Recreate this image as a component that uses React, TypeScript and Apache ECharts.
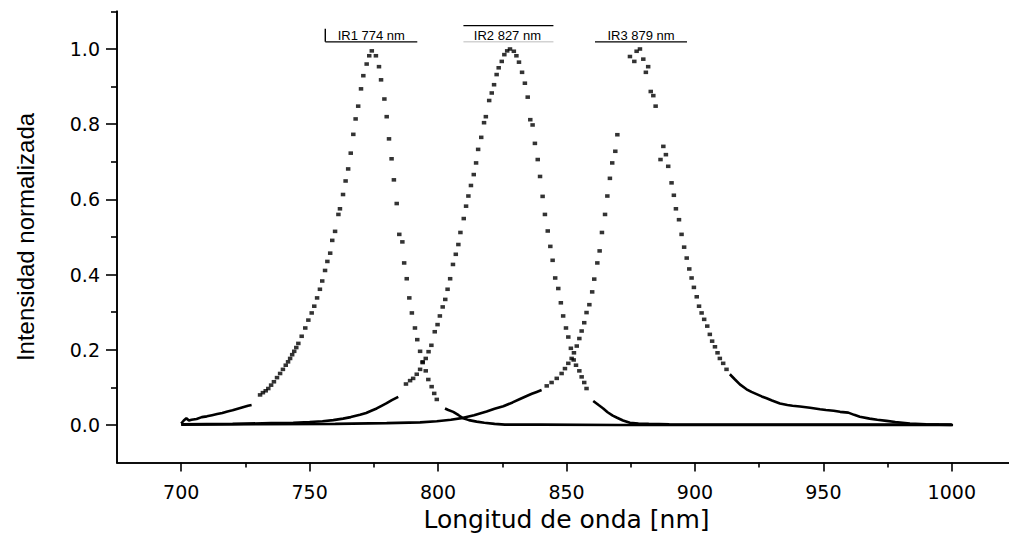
import React, { useEffect, useRef } from "react";
import * as echarts from "echarts";

// Axis ticks
const xTicks = [700, 750, 800, 850, 900, 950, 1000];
const xMinorTicks = [725, 775, 825, 875, 925, 975];
const yTicks = [0, 0.2, 0.4, 0.6, 0.8, 1.0];
const yMinorTicks = [0.1, 0.3, 0.5, 0.7, 0.9, 1.1];

// Peak annotations
const peakLabels = ["IR1 774 nm", "IR2 827 nm", "IR3 879 nm"];
const peakWavelengths = [774, 827, 879];

// IR1 (774 nm) – dotted part
const ir1DotsX = [730.7, 731.8, 732.9, 733.9, 735.0, 736.1, 737.3, 738.5, 739.6, 740.7, 741.6, 742.4, 743.2, 744.0, 744.8, 745.6, 746.9, 748.3, 749.5, 750.8, 751.8, 752.9, 754.0, 754.9, 756.0, 756.9, 758.0, 758.8, 759.9, 761.2, 761.8, 763.0, 764.0, 765.0, 766.0, 767.0, 767.9, 768.9, 770.0, 770.9, 772.2, 773.2, 774.2, 775.8, 777.0, 777.8, 779.1, 780.0, 780.9, 781.9, 782.8, 783.9, 784.9, 786.1, 786.8, 787.8, 788.8, 789.8, 791.0, 791.9, 793.0, 794.0, 795.2, 796.2, 797.5, 798.5, 799.5];
const ir1DotsY = [0.080, 0.086, 0.091, 0.097, 0.106, 0.115, 0.126, 0.137, 0.148, 0.159, 0.168, 0.177, 0.187, 0.196, 0.206, 0.217, 0.236, 0.258, 0.279, 0.298, 0.316, 0.338, 0.361, 0.383, 0.411, 0.435, 0.457, 0.491, 0.515, 0.560, 0.575, 0.613, 0.649, 0.681, 0.723, 0.773, 0.814, 0.848, 0.894, 0.929, 0.960, 0.982, 0.995, 0.982, 0.953, 0.918, 0.867, 0.820, 0.761, 0.708, 0.652, 0.589, 0.507, 0.487, 0.431, 0.389, 0.338, 0.298, 0.258, 0.227, 0.196, 0.168, 0.144, 0.121, 0.102, 0.084, 0.068];
// IR1 – continuous tails
const ir1LeftX = [700, 701, 702, 703, 704, 706, 708, 710, 712, 714, 716, 718, 720, 722, 724, 726, 727.4];
const ir1LeftY = [0.004, 0.012, 0.018, 0.012, 0.014, 0.016, 0.021, 0.023, 0.026, 0.029, 0.032, 0.036, 0.039, 0.043, 0.047, 0.051, 0.053];
const ir1RightX = [802.7, 804, 805.9, 808, 809.8, 812, 815, 818, 822, 826, 840, 870, 900, 940, 970, 1000];
const ir1RightY = [0.044, 0.040, 0.035, 0.026, 0.018, 0.013, 0.009, 0.006, 0.003, 0.001, 0.001, 0.0, 0.0, 0.0, 0.0, 0.0];

// IR2 (827 nm)
const ir2DotsX = [787.5, 789.1, 790.3, 791.7, 793.0, 794.0, 795.2, 796.3, 797.4, 798.7, 799.8, 800.7, 801.8, 802.8, 803.7, 804.7, 805.8, 806.9, 807.9, 808.7, 810.0, 810.9, 811.8, 812.8, 813.9, 814.8, 815.6, 816.8, 817.9, 818.6, 819.9, 820.9, 821.8, 822.8, 823.6, 824.8, 825.8, 826.9, 828.0, 829.5, 830.5, 831.5, 832.7, 833.8, 834.9, 835.9, 836.8, 837.7, 838.8, 839.7, 840.7, 841.6, 842.7, 843.7, 844.6, 845.6, 846.8, 847.8, 848.7, 849.8, 850.7, 851.7, 852.8, 853.7, 855.0, 855.9, 856.9, 857.8];
const ir2DotsY = [0.109, 0.118, 0.124, 0.135, 0.148, 0.166, 0.177, 0.195, 0.212, 0.248, 0.267, 0.290, 0.314, 0.334, 0.361, 0.389, 0.427, 0.454, 0.480, 0.512, 0.549, 0.582, 0.609, 0.637, 0.666, 0.697, 0.733, 0.765, 0.804, 0.820, 0.863, 0.883, 0.905, 0.932, 0.950, 0.967, 0.985, 0.995, 1.0, 0.994, 0.982, 0.965, 0.938, 0.909, 0.872, 0.812, 0.798, 0.749, 0.706, 0.661, 0.608, 0.560, 0.516, 0.475, 0.438, 0.391, 0.363, 0.325, 0.290, 0.258, 0.234, 0.204, 0.173, 0.159, 0.144, 0.128, 0.113, 0.097];
const ir2LeftX = [700, 720, 735, 743.6, 750, 755, 759.2, 763, 766, 769.6, 772, 774, 776.1, 778, 780, 782, 784.5];
const ir2LeftY = [0.002, 0.003, 0.005, 0.006, 0.008, 0.010, 0.013, 0.017, 0.021, 0.027, 0.032, 0.038, 0.044, 0.051, 0.058, 0.066, 0.075];
const ir2RightX = [860.4, 862.5, 864.3, 866, 868, 869.5, 872, 874.7, 878, 882, 890, 920, 960, 1000];
const ir2RightY = [0.064, 0.053, 0.044, 0.034, 0.025, 0.020, 0.012, 0.006, 0.004, 0.003, 0.002, 0.001, 0.001, 0.001];

// IR3 (879 nm)
const ir3DotsX = [842.3, 844.2, 846.2, 848.1, 849.4, 850.7, 852.0, 852.9, 854.0, 855.0, 855.9, 856.9, 857.8, 858.9, 860.0, 860.8, 862.0, 862.9, 863.8, 865.0, 865.9, 866.9, 867.8, 869.0, 869.8, 874.7, 876.4, 877.3, 878.6, 879.9, 880.9, 881.8, 882.8, 883.8, 884.7, 886.6, 887.7, 888.7, 889.6, 890.9, 891.8, 892.6, 893.8, 894.8, 895.8, 896.8, 897.8, 898.7, 899.6, 900.7, 901.6, 902.6, 903.6, 904.8, 905.8, 906.7, 907.8, 908.8, 909.7, 911.0, 912.3];
const ir3DotsY = [0.104, 0.113, 0.124, 0.137, 0.150, 0.164, 0.177, 0.192, 0.210, 0.230, 0.250, 0.272, 0.299, 0.320, 0.354, 0.388, 0.431, 0.463, 0.512, 0.560, 0.609, 0.656, 0.697, 0.728, 0.772, 0.980, 0.967, 0.994, 1.0, 0.973, 0.938, 0.953, 0.887, 0.876, 0.848, 0.706, 0.741, 0.719, 0.688, 0.644, 0.611, 0.575, 0.546, 0.507, 0.473, 0.444, 0.415, 0.391, 0.366, 0.341, 0.316, 0.298, 0.281, 0.263, 0.241, 0.223, 0.208, 0.192, 0.177, 0.164, 0.148];
const ir3LeftX = [700, 730, 760, 780, 793, 799.5, 805, 809.8, 814, 818.9, 822, 825.4, 829, 831.9, 834.5, 836.5, 838.4, 840.3];
const ir3LeftY = [0.001, 0.002, 0.003, 0.005, 0.007, 0.010, 0.014, 0.019, 0.026, 0.036, 0.043, 0.050, 0.060, 0.069, 0.077, 0.083, 0.088, 0.093];
const ir3RightX = [913.6, 915.6, 917.5, 920.1, 922, 924.0, 926, 927.9, 930, 933.1, 936, 938, 940.9, 944.8, 948.7, 951, 954, 956.5, 959.7, 962, 964.2, 968, 971, 974.6, 978, 983.7, 990, 995, 1000.5];
const ir3RightY = [0.135, 0.121, 0.108, 0.095, 0.088, 0.082, 0.076, 0.071, 0.065, 0.057, 0.053, 0.051, 0.049, 0.046, 0.042, 0.040, 0.038, 0.035, 0.033, 0.027, 0.022, 0.017, 0.014, 0.011, 0.008, 0.004, 0.002, 0.001, 0.0];

const zip = (xs: number[], ys: number[]) => xs.map((x, i) => [x, ys[i]]);

const dotSeries = (name: string, xs: number[], ys: number[]) => ({
  name,
  type: "scatter",
  data: zip(xs, ys),
  symbol: "rect",
  symbolSize: [4.5, 3.6],
  itemStyle: { color: "#000" },
  silent: true,
});

const tailSeries = (name: string, xs: number[], ys: number[]) => ({
  name,
  type: "line",
  data: zip(xs, ys),
  showSymbol: false,
  symbol: "none",
  lineStyle: { color: "#000", width: 2.6 },
  silent: true,
});

const TICK_FONT = "'DejaVu Sans', 'Liberation Sans', sans-serif";
const ARIAL = "'Liberation Sans', Arial, sans-serif";

export default function App() {
  const ref = useRef<HTMLDivElement>(null);

  useEffect(() => {
    if (!ref.current) return;
    const chart = echarts.init(ref.current, null, { renderer: "svg" });
    const axisLineStyle = { color: "#000", width: 1.6 };
    const option: any = {
      animation: false,
      backgroundColor: "#fff",
      grid: {
        left: 117,
        right: 14,
        top: 11.4,
        bottom: 70.4,
        containLabel: false,
        outerBoundsMode: "none",
      },
      xAxis: [
        {
          type: "value",
          min: 675,
          max: 1025,
          position: "bottom",
          axisLine: { show: true, onZero: false, lineStyle: axisLineStyle },
          axisTick: { show: true, inside: false, length: 9, customValues: xTicks, lineStyle: axisLineStyle },
          axisLabel: {
            customValues: xTicks,
            color: "#000",
            fontSize: 19,
            fontFamily: TICK_FONT,
            margin: 20,
            formatter: (v: number) => String(v),
          },
          splitLine: { show: false },
          name: "Longitud de onda [nm]",
          nameLocation: "middle",
          nameGap: 36,
          nameTextStyle: { color: "#000", fontSize: 25, fontFamily: TICK_FONT },
        },
        {
          type: "value",
          min: 675,
          max: 1025,
          position: "bottom",
          axisLine: { show: true, onZero: false, lineStyle: axisLineStyle },
          axisTick: { show: true, inside: false, length: 5, customValues: xMinorTicks, lineStyle: axisLineStyle },
          axisLabel: { show: false },
          splitLine: { show: false },
        },
      ],
      yAxis: [
        {
          type: "value",
          min: -0.1,
          max: 1.1,
          position: "left",
          axisLine: { show: true, onZero: false, lineStyle: axisLineStyle },
          axisTick: { show: true, inside: false, length: 11, customValues: yTicks, lineStyle: axisLineStyle },
          axisLabel: {
            customValues: yTicks,
            color: "#000",
            fontSize: 19,
            fontFamily: TICK_FONT,
            margin: 17,
            formatter: (v: number) => v.toFixed(1),
          },
          splitLine: { show: false },
          name: "Intensidad normalizada",
          nameLocation: "middle",
          nameRotate: 90,
          nameGap: 80,
          nameTextStyle: {
            color: "#000",
            fontSize: 24,
            fontFamily: ARIAL,
          },
        },
        {
          type: "value",
          min: -0.1,
          max: 1.1,
          position: "left",
          axisLine: { show: true, onZero: false, lineStyle: axisLineStyle },
          axisTick: { show: true, inside: false, length: 6, customValues: yMinorTicks, lineStyle: axisLineStyle },
          axisLabel: { show: false },
          splitLine: { show: false },
        },
      ],
      series: [
        tailSeries("IR1 left", ir1LeftX, ir1LeftY),
        tailSeries("IR1 right", ir1RightX, ir1RightY),
        tailSeries("IR2 left", ir2LeftX, ir2LeftY),
        tailSeries("IR2 right", ir2RightX, ir2RightY),
        tailSeries("IR3 left", ir3LeftX, ir3LeftY),
        tailSeries("IR3 right", ir3RightX, ir3RightY),
        dotSeries("IR1", ir1DotsX, ir1DotsY),
        dotSeries("IR2", ir2DotsX, ir2DotsY),
        dotSeries("IR3", ir3DotsX, ir3DotsY),
      ],
    };
    chart.setOption(option);

    // Peak annotations positioned through the chart's scales
    const graphics: any[] = [];
    peakLabels.forEach((label, i) => {
      const c = chart.convertToPixel({ xAxisIndex: 0, yAxisIndex: 0 }, [peakWavelengths[i], 1.035]) as number[];
      const under = chart.convertToPixel({ xAxisIndex: 0, yAxisIndex: 0 }, [peakWavelengths[i], 1.019]) as number[];
      const over = chart.convertToPixel({ xAxisIndex: 0, yAxisIndex: 0 }, [peakWavelengths[i], 1.062]) as number[];
      const half = 46;
      graphics.push({
        type: "text",
        style: {
          text: label,
          x: c[0],
          y: c[1],
          fill: "#000",
          fontSize: 13,
          fontFamily: ARIAL,
          textAlign: "center",
          textVerticalAlign: "middle",
          align: "center",
          verticalAlign: "middle",
        },
        silent: true,
      });
      if (i === 0) {
        graphics.push({
          type: "line",
          shape: { x1: c[0] - half, y1: under[1], x2: c[0] + half, y2: under[1] },
          style: { stroke: "#000", lineWidth: 1.2 },
          silent: true,
        });
        graphics.push({
          type: "line",
          shape: { x1: c[0] - half, y1: under[1] - 13, x2: c[0] - half, y2: under[1] },
          style: { stroke: "#000", lineWidth: 1.4 },
          silent: true,
        });
      } else if (i === 1) {
        graphics.push({
          type: "line",
          shape: { x1: c[0] - half + 2, y1: over[1], x2: c[0] + half, y2: over[1] },
          style: { stroke: "#000", lineWidth: 1.2 },
          silent: true,
        });
        graphics.push({
          type: "line",
          shape: { x1: c[0] - half + 2, y1: under[1], x2: c[0] + half, y2: under[1] },
          style: { stroke: "#bbb", lineWidth: 1 },
          silent: true,
        });
      } else {
        graphics.push({
          type: "line",
          shape: { x1: c[0] - half, y1: under[1], x2: c[0] + half, y2: under[1] },
          style: { stroke: "#000", lineWidth: 1.2 },
          silent: true,
        });
      }
    });
    chart.setOption({ graphic: graphics });

    return () => chart.dispose();
  }, []);

  return (
    <div style={{ position: "fixed", left: 0, top: 0, width: 1009, height: 533, overflow: "hidden", background: "#fff" }}>
      <div ref={ref} style={{ width: 1030, height: 533 }} />
    </div>
  );
}
